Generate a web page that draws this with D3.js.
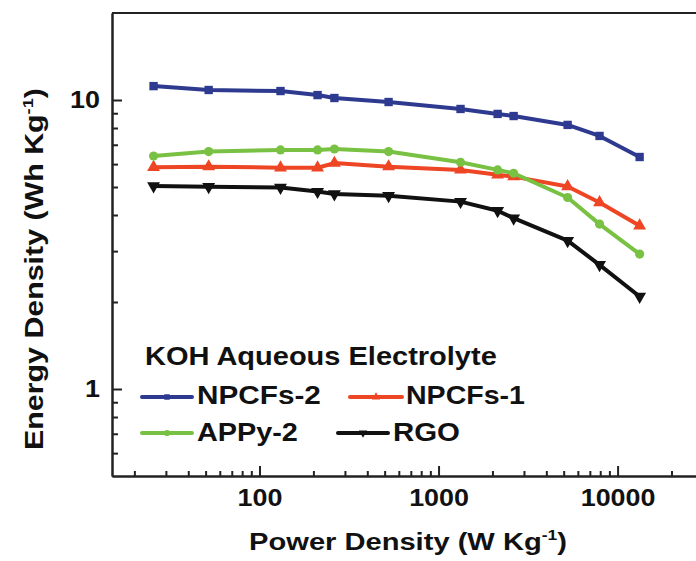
<!DOCTYPE html>
<html>
<head>
<meta charset="utf-8">
<script src="https://cdn.jsdelivr.net/npm/d3@7"></script>
<style>
  html, body { margin: 0; padding: 0; background: #fff; }
  svg { display: block; }
  text { font-family: "Liberation Sans", Arial, sans-serif; font-weight: bold; fill: #111; }
</style>
</head>
<body>
<svg id="chart" width="696" height="561"></svg>
<script>
'use strict';

// ── data ──────────────────────────────────────────────────────────────────
const power = [25.6, 52, 131, 211, 262, 526, 1327, 2138, 2627, 5260, 7930, 13280];

const npcfs2 = [11.17, 10.83, 10.74, 10.40, 10.16, 9.84, 9.31, 8.95, 8.80, 8.20, 7.51, 6.35];
const npcfs1 = [5.85, 5.88, 5.83, 5.83, 6.05, 5.88, 5.73, 5.51, 5.43, 5.02, 4.42, 3.67];
const appy2  = [6.40, 6.63, 6.72, 6.72, 6.77, 6.63, 6.09, 5.73, 5.58, 4.60, 3.72, 2.93];
const rgo    = [5.04, 5.01, 4.98, 4.82, 4.73, 4.66, 4.45, 4.14, 3.90, 3.26, 2.69, 2.09];

const seriesNames = ['NPCFs-2', 'NPCFs-1', 'APPy-2', 'RGO'];
const seriesValues = [npcfs2, npcfs1, appy2, rgo];

const xMajor = [100, 1000, 10000];
const xMinor = [20, 30, 40, 50, 60, 70, 80, 90, 200, 300, 400, 500, 600, 700, 800, 900,
                2000, 3000, 4000, 5000, 6000, 7000, 8000, 9000, 20000];
const yMajor = [1, 10];
const yMinor = [0.6, 0.7, 0.8, 0.9, 2, 3, 4, 5, 6, 7, 8, 9];

// ── styles ────────────────────────────────────────────────────────────────
const STYLE = {
  'NPCFs-2': { color: '#2d3a8f', symbol: d3.symbolSquare,   size: 70, rot: 0 },
  'NPCFs-1': { color: '#ee4524', symbol: d3.symbolTriangle, size: 72, rot: 0 },
  'APPy-2':  { color: '#79c142', symbol: d3.symbolCircle,   size: 66, rot: 0 },
  'RGO':     { color: '#111111', symbol: d3.symbolTriangle, size: 72, rot: 180 },
};

const svg = d3.select('#chart');
const x = d3.scaleLog().domain([15, 30000]).range([112, 703]);
const y = d3.scaleLog().domain([0.5, 20]).range([476, 13]);

// the reference lettering is horizontally stretched Arial; widen text to match
function stretchBy(node, s) {
  const ax = +(node.getAttribute('x') || 0);
  const prev = node.getAttribute('transform') || '';
  node.setAttribute('transform',
    `${prev} translate(${ax},0) scale(${s},1) translate(${-ax},0)`.trim());
}
function stretchTo(sel, target) {
  sel.each(function () {
    stretchBy(this, target / this.getComputedTextLength());
  });
}

// ── frame / axes ──────────────────────────────────────────────────────────
svg.append('line')
  .attr('x1', 112).attr('x2', 703).attr('y1', 13).attr('y2', 13)
  .attr('stroke', '#222').attr('stroke-width', 2);

function styleAxis(g) {
  g.select('.domain').attr('stroke', '#222').attr('stroke-width', 2);
  g.selectAll('.tick line').attr('stroke', '#222').attr('stroke-width', 2);
  g.selectAll('.tick text')
    .attr('fill', '#111')
    .attr('font-size', 24)
    .attr('font-family', '"Liberation Sans", Arial, sans-serif')
    .attr('font-weight', 'bold')
    .each(function () { stretchBy(this, 1.12); });
}

svg.append('g')
  .attr('transform', 'translate(0,476)')
  .call(d3.axisBottom(x).tickValues(xMinor).tickSizeInner(-5).tickSizeOuter(0).tickFormat(''))
  .call(styleAxis);
svg.append('g')
  .attr('transform', 'translate(0,476)')
  .call(d3.axisBottom(x).tickValues(xMajor).tickSizeInner(-10).tickSizeOuter(0)
    .tickPadding(13).tickFormat(d3.format('d')))
  .call(styleAxis);

svg.append('g')
  .attr('transform', 'translate(112,0)')
  .call(d3.axisLeft(y).tickValues(yMinor).tickSizeInner(-6).tickSizeOuter(0).tickFormat(''))
  .call(styleAxis);
svg.append('g')
  .attr('transform', 'translate(112,0)')
  .call(d3.axisLeft(y).tickValues(yMajor).tickSizeInner(-10).tickSizeOuter(0)
    .tickPadding(12).tickFormat(d3.format('d')))
  .call(styleAxis);

// ── axis titles ───────────────────────────────────────────────────────────
function unitLabel(sel, main, unit) {
  sel.append('tspan').text(main + ' (' + unit);
  sel.append('tspan').attr('dy', -10).attr('font-size', '0.6em').text('-1');
  sel.append('tspan').attr('dy', 10).text(')');
}

svg.append('text')
  .attr('x', 408).attr('y', 550)
  .attr('text-anchor', 'middle')
  .attr('font-size', 23.5)
  .call(unitLabel, 'Power Density', 'W Kg')
  .call(stretchTo, 318);

svg.append('text')
  .attr('transform', 'translate(43,269) rotate(-90)')
  .attr('text-anchor', 'middle')
  .attr('font-size', 25)
  .call(unitLabel, 'Energy Density', 'Wh Kg')
  .call(stretchTo, 362);

// ── series ────────────────────────────────────────────────────────────────
const line = d3.line().x(d => x(d.x)).y(d => y(d.y));

seriesNames.forEach((name, i) => {
  const st = STYLE[name];
  const pts = power.map((p, j) => ({ x: p, y: seriesValues[i][j] }));
  const g = svg.append('g').attr('class', 'series');
  g.append('path')
    .datum(pts)
    .attr('d', line)
    .attr('fill', 'none')
    .attr('stroke', st.color)
    .attr('stroke-width', 4)
    .attr('stroke-linejoin', 'round');
  g.selectAll('path.mk')
    .data(pts)
    .join('path')
    .attr('class', 'mk')
    .attr('d', d3.symbol(st.symbol, st.size))
    .attr('transform', d => `translate(${x(d.x)},${y(d.y)}) rotate(${st.rot})`)
    .attr('fill', st.color);
});

// ── legend ────────────────────────────────────────────────────────────────
svg.append('text')
  .attr('x', 145).attr('y', 365)
  .attr('font-size', 25.5)
  .text('KOH Aqueous Electrolyte')
  .call(stretchTo, 352);

const legendPos = {
  'NPCFs-2': { x1: 142, x2: 192, y: 397, tx: 197, ty: 404, w: 124 },
  'NPCFs-1': { x1: 350, x2: 402, y: 397, tx: 406, ty: 404, w: 119 },
  'APPy-2':  { x1: 142, x2: 192, y: 433, tx: 197, ty: 441, w: 101 },
  'RGO':     { x1: 338, x2: 388, y: 433, tx: 393, ty: 441, w: 67 },
};

seriesNames.forEach(name => {
  const st = STYLE[name];
  const p = legendPos[name];
  const g = svg.append('g').attr('class', 'legend-item');
  g.append('line')
    .attr('x1', p.x1).attr('x2', p.x2).attr('y1', p.y).attr('y2', p.y)
    .attr('stroke', st.color).attr('stroke-width', 4).attr('stroke-linecap', 'round');
  g.append('path')
    .attr('d', d3.symbol(st.symbol, 30))
    .attr('transform', `translate(${(p.x1 + p.x2) / 2},${p.y}) rotate(${st.rot})`)
    .attr('fill', st.color);
  g.append('text')
    .attr('x', p.tx).attr('y', p.ty)
    .attr('font-size', 26)
    .text(name)
    .call(stretchTo, p.w);
});
</script>
</body>
</html>
